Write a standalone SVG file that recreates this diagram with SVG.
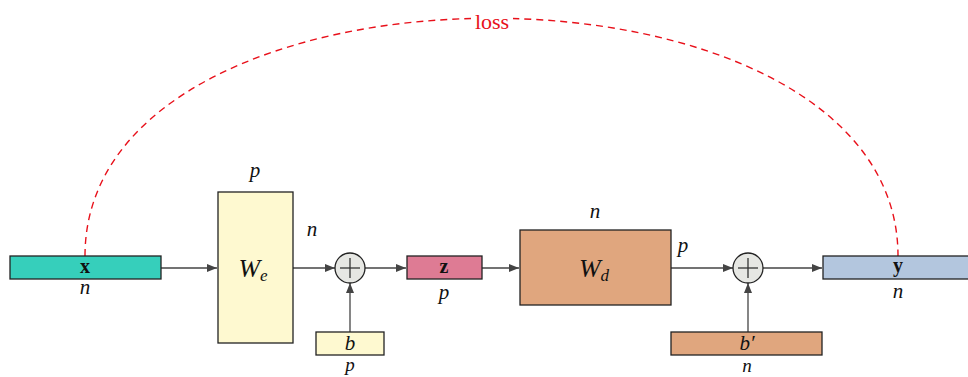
<svg xmlns="http://www.w3.org/2000/svg" width="968" height="377" viewBox="0 0 968 377">
<style>
.box{stroke:#222;stroke-width:1.3}
.edge{stroke:#444;stroke-width:1.3;fill:none;marker-end:url(#ah)}
.m{font-family:"Liberation Serif","DejaVu Serif",serif;font-style:italic;fill:#111;text-anchor:middle}
.bold{font-family:"Liberation Serif","DejaVu Serif",serif;font-weight:bold;fill:#111;text-anchor:middle;font-size:20px}
.dim{font-size:21px}
.sm{font-size:19px}
.plus{fill:#e6e7e3;stroke:#222;stroke-width:1.3}
.pl{stroke:#333;stroke-width:1.3}
</style>
<defs>
<marker id="ah" viewBox="0 0 10 8" refX="10" refY="4" markerWidth="10" markerHeight="8" markerUnits="userSpaceOnUse" orient="auto">
<path d="M0,0 L10,4 L0,8 Z" fill="#444"/>
</marker>
</defs>
<rect width="968" height="377" fill="#fff"/>

<g id="loss">
<path d="M85,256 C85,-61 898,-61 898,256" fill="none" stroke="#e8101a" stroke-width="1.4" stroke-dasharray="7,5"/>
<rect x="471" y="8" width="42" height="22" fill="#fff"/>
<text x="492" y="29" font-family="Liberation Serif,DejaVu Serif,serif" font-size="22" fill="#e8101a" text-anchor="middle">loss</text>
</g>

<g id="connectors">
<line class="edge" x1="161" y1="268" x2="217" y2="268"/>
<line class="edge" x1="293" y1="268" x2="335" y2="268"/>
<line class="edge" x1="350" y1="332" x2="350" y2="283"/>
<line class="edge" x1="365" y1="268" x2="406" y2="268"/>
<line class="edge" x1="482" y1="268" x2="519" y2="268"/>
<line class="edge" x1="671" y1="268" x2="733" y2="268"/>
<line class="edge" x1="748" y1="332" x2="748" y2="283"/>
<line class="edge" x1="763" y1="268" x2="822" y2="268"/>
</g>

<g id="x">
<rect class="box" x="10" y="256" width="151" height="23" fill="#36cfbb"/>
<text class="bold" x="85" y="273">x</text>
<text class="m dim" x="85" y="294">n</text>
</g>

<g id="We">
<rect class="box" x="218" y="192" width="75" height="151" fill="#fef9d0"/>
<text class="m" x="253" y="277" font-size="26">W<tspan font-size="17" dy="4">e</tspan></text>
<text class="m dim" x="255" y="177">p</text>
<text class="m dim" x="312" y="236">n</text>
</g>

<g id="plus1">
<circle class="plus" cx="350" cy="268" r="15"/>
<line class="pl" x1="340" y1="268" x2="360" y2="268"/>
<line class="pl" x1="350" y1="258" x2="350" y2="278"/>
</g>

<g id="b">
<rect class="box" x="316" y="332" width="68" height="23" fill="#fef9d0"/>
<text class="m" x="350" y="350" font-size="21">b</text>
<text class="m sm" x="350" y="371">p</text>
</g>

<g id="z">
<rect class="box" x="407" y="256" width="75" height="23" fill="#de7b94"/>
<text class="bold" x="444" y="273">z</text>
<text class="m dim" x="444" y="299">p</text>
</g>

<g id="Wd">
<rect class="box" x="520" y="230" width="151" height="75" fill="#e0a67e"/>
<text class="m" x="594" y="277" font-size="26">W<tspan font-size="17" dy="4">d</tspan></text>
<text class="m dim" x="595" y="218">n</text>
<text class="m dim" x="683" y="252">p</text>
</g>

<g id="plus2">
<circle class="plus" cx="748" cy="268" r="15"/>
<line class="pl" x1="738" y1="268" x2="758" y2="268"/>
<line class="pl" x1="748" y1="258" x2="748" y2="278"/>
</g>

<g id="bprime">
<rect class="box" x="671" y="332" width="151" height="23" fill="#e0a67e"/>
<text class="m" x="747" y="350" font-size="21">b′</text>
<text class="m sm" x="747" y="372">n</text>
</g>

<g id="y">
<rect class="box" x="823" y="256" width="150" height="23" fill="#b3c6de"/>
<text class="bold" x="898" y="272">y</text>
<text class="m dim" x="898" y="298">n</text>
</g>
</svg>
